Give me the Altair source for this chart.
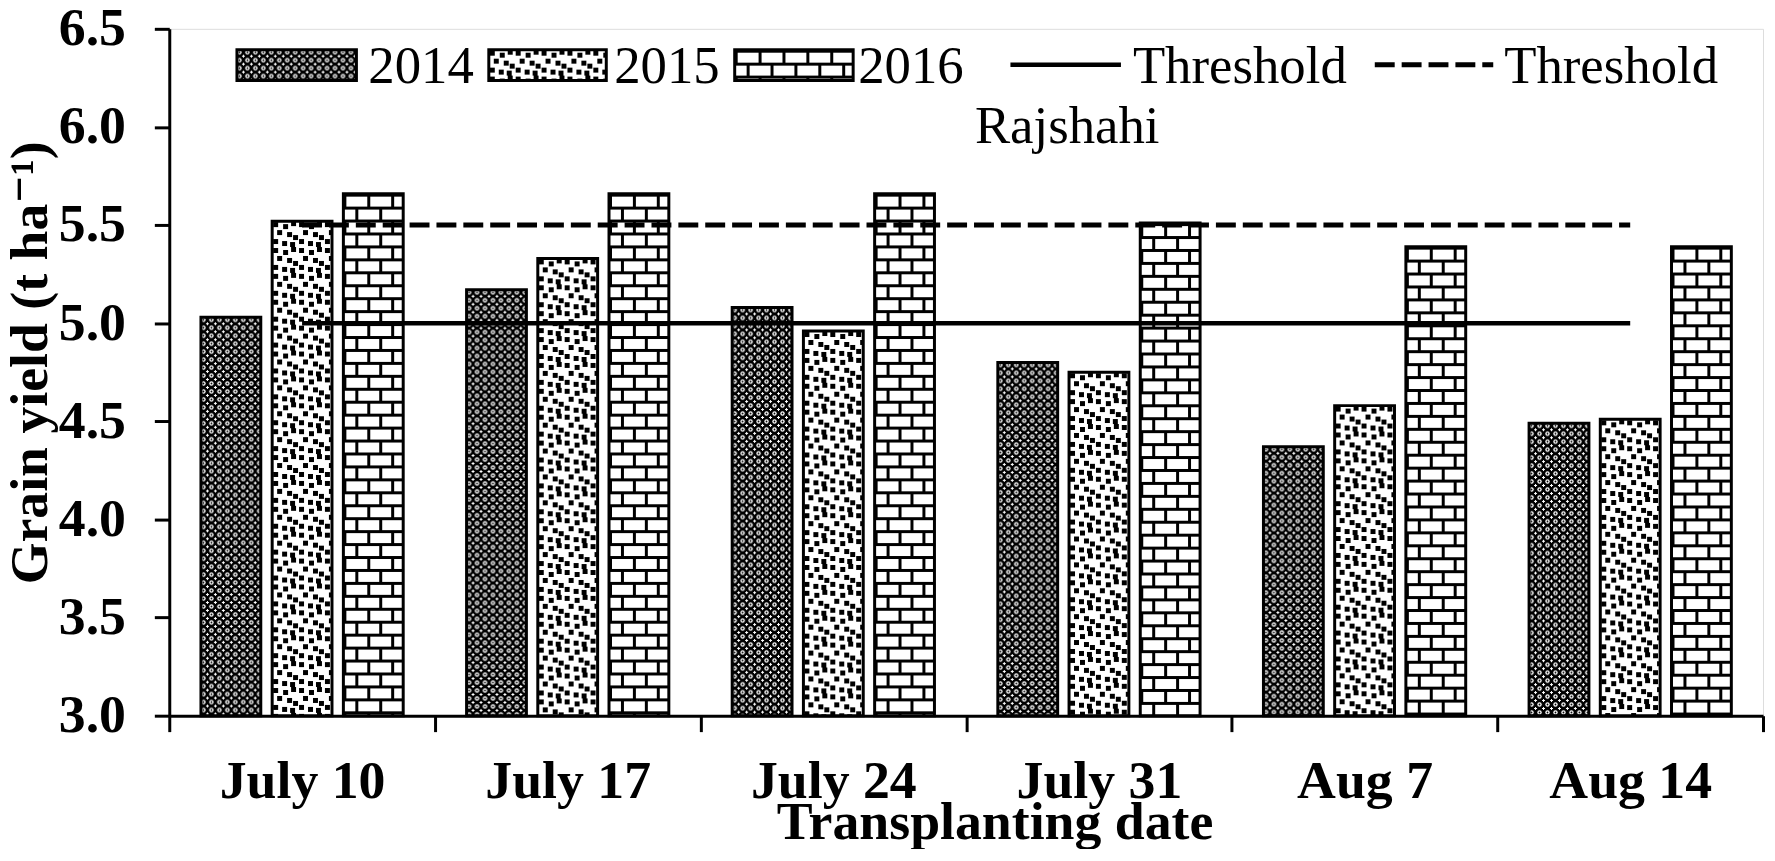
import altair as alt
import pandas as pd
from urllib.parse import quote

# ---------------- data ----------------
dates = ["July 10", "July 17", "July 24", "July 31", "Aug 7", "Aug 14"]
years = ["2014", "2015", "2016"]
yield_2014 = [5.03, 5.17, 5.08, 4.80, 4.37, 4.49]
yield_2015 = [5.52, 5.33, 4.96, 4.75, 4.58, 4.51]
yield_2016 = [5.66, 5.66, 5.66, 5.51, 5.39, 5.39]
threshold_solid = 5.0
threshold_dashed = 5.5
y_ticks = [3.0, 3.5, 4.0, 4.5, 5.0, 5.5, 6.0, 6.5]
legend_labels = ["2014", "2015", "2016", "Threshold", "Threshold"]
location_label = "Rajshahi"
x_title = "Transplanting date"
y_title = "Grain yield (t ha\u207b\u00b9)"

rows = []
for yr, vals in zip(years, [yield_2014, yield_2015, yield_2016]):
    for d, v in zip(dates, vals):
        rows.append({"date": d, "year": yr, "yield": v})
bars_df = pd.DataFrame(rows)

thr_rows = []
for kind, val in [("solid", threshold_solid), ("dashed", threshold_dashed)]:
    for d in dates:
        thr_rows.append({"date": d, "kind": kind, "yield": val})
thr_df = pd.DataFrame(thr_rows)

# ---------------- styles ----------------
FONT = "Liberation Serif, DejaVu Serif"


def pattern_uri(w, h, body):
    svg = ('<svg xmlns="http://www.w3.org/2000/svg">'
           f'<defs><pattern id="p" x="0" y="0" width="{w}" height="{h}" '
           f'patternUnits="userSpaceOnUse">{body}</pattern></defs>'
           '<rect x="0" y="0" width="100%" height="100%" fill="url(#p)"/></svg>')
    return "data:image/svg+xml;charset=utf-8," + quote(svg)


pat_2014 = pattern_uri(8, 8,
    '<rect width="8" height="8" fill="#000"/>'
    '<circle cx="2.5" cy="2.5" r="2.2" fill="#fff"/>'
    '<circle cx="2.5" cy="2.5" r="0.9" fill="#000"/>'
    '<rect x="5" y="6" width="3" height="1" fill="#fff"/>'
    '<rect x="6" y="5" width="1" height="3" fill="#fff"/>')

sq = [(1, 1), (11, 3), (19, 0), (5, 9), (15, 11), (21, 14), (1, 18), (10, 20), (18, 21)]
pat_2015 = pattern_uri(26, 26,
    '<rect width="26" height="26" fill="#fff"/>' +
    "".join(f'<rect x="{a}" y="{b}" width="5" height="5" fill="#000"/>' for a, b in sq))

pat_2016 = pattern_uri(24, 26,
    '<rect width="24" height="26" fill="#fff"/>'
    '<rect x="0" y="0" width="24" height="3" fill="#000"/>'
    '<rect x="0" y="13" width="24" height="3" fill="#000"/>'
    '<rect x="0" y="0" width="3" height="13" fill="#000"/>'
    '<rect x="12" y="13" width="3" height="13" fill="#000"/>')

patterns = {"2014": pat_2014, "2015": pat_2015, "2016": pat_2016}

x_axis = alt.Axis(
    title=x_title, labelAngle=0, labelFont=FONT, labelFontWeight="bold",
    labelFontSize=54, labelColor="black", labelPadding=23, labelOverlap=False,
    tickBand="extent", tickSize=16, tickWidth=3, tickColor="black",
    domainColor="black", domainWidth=3, grid=False,
    titleFont=FONT, titleFontWeight="bold", titleFontSize=54, titleColor="black",
    titleX=829, titleY=123, titleAlign="center", titleBaseline="alphabetic")

y_axis = alt.Axis(
    title=y_title, values=y_ticks, format=".1f", labelFont=FONT,
    labelFontWeight="bold", labelFontSize=54, labelColor="black",
    labelPadding=29, tickSize=15, tickWidth=3, tickColor="black",
    domainColor="black", domainWidth=3, grid=False,
    titleFont=FONT, titleFontWeight="bold", titleFontSize=54, titleColor="black",
    titleAngle=270, titleX=-123, titleY=335, titleAlign="center",
    titleBaseline="alphabetic")

x_enc = alt.X("date:N", sort=dates,
              scale=alt.Scale(domain=dates, paddingInner=0, paddingOuter=0),
              axis=x_axis)
xoff_enc = alt.XOffset("year:N", sort=years,
                       scale=alt.Scale(domain=years, paddingInner=0.16, paddingOuter=0.445))
y_enc = alt.Y("yield:Q", scale=alt.Scale(domain=[3.0, 6.5], zero=False, nice=False),
              axis=y_axis)

layers = []

# pattern fills of the bars
for yr in years:
    layers.append(
        alt.Chart(bars_df).transform_filter(alt.datum.year == yr)
        .mark_image(aspect=False)
        .encode(x=x_enc, xOffset=xoff_enc, y=y_enc, y2=alt.datum(3.0),
                url=alt.value(patterns[yr]))
    )

# bar outlines
layers.append(
    alt.Chart(bars_df).mark_bar(fillOpacity=0, stroke="black", strokeWidth=3)
    .encode(x=x_enc, xOffset=xoff_enc, y=y_enc, y2=alt.datum(3.0))
)

# threshold lines
layers.append(
    alt.Chart(thr_df).transform_filter(alt.datum.kind == "solid")
    .mark_line(color="black", strokeWidth=4.5)
    .encode(x=x_enc, y=y_enc)
)
layers.append(
    alt.Chart(thr_df).transform_filter(alt.datum.kind == "dashed")
    .mark_line(color="black", strokeWidth=5, strokeDash=[20, 7])
    .encode(x=x_enc, y=y_enc)
)

# ---------------- legend ----------------
swatch_pos = [(68, 188), (321, 439), (568, 687)]
text_x = [200, 447, 692, 968, 1341]
for (x0, x1), yr in zip(swatch_pos, years):
    layers.append(
        alt.Chart(pd.DataFrame({"label": [yr]})).mark_image(aspect=False)
        .encode(x=alt.value(x0), x2=alt.value(x1), y=alt.value(21), y2=alt.value(52),
                url=alt.value(patterns[yr]))
    )
    layers.append(
        alt.Chart(pd.DataFrame({"label": [yr]}))
        .mark_rect(fillOpacity=0, stroke="black", strokeWidth=3)
        .encode(x=alt.value(x0), x2=alt.value(x1), y=alt.value(21), y2=alt.value(52))
    )

layers.append(
    alt.Chart(pd.DataFrame({"label": ["solid"]})).mark_rule(color="black", strokeWidth=4.5)
    .encode(x=alt.value(845), x2=alt.value(956), y=alt.value(36))
)
layers.append(
    alt.Chart(pd.DataFrame({"label": ["dashed"]}))
    .mark_rule(color="black", strokeWidth=5, strokeDash=[20, 7])
    .encode(x=alt.value(1211), x2=alt.value(1330), y=alt.value(36))
)

for lbl, tx in zip(legend_labels, text_x):
    layers.append(
        alt.Chart(pd.DataFrame({"label": [lbl]}))
        .mark_text(align="left", baseline="alphabetic", font=FONT, fontSize=53, color="black")
        .encode(x=alt.value(tx), y=alt.value(54), text="label:N")
    )

layers.append(
    alt.Chart(pd.DataFrame({"label": [location_label]}))
    .mark_text(align="center", baseline="alphabetic", font=FONT, fontSize=53, color="black")
    .encode(x=alt.value(902), y=alt.value(115), text="label:N")
)

chart = (
    alt.layer(*layers)
    .properties(width=1601, height=690,
                autosize=alt.AutoSizeParams(type="none"),
                padding={"left": 162, "top": 19, "right": 4, "bottom": 132})
    .configure_view(stroke="black", strokeWidth=3)
    .configure(background="white")
)

chart.save("out.html", embed_options={"renderer": "svg", "actions": False})
